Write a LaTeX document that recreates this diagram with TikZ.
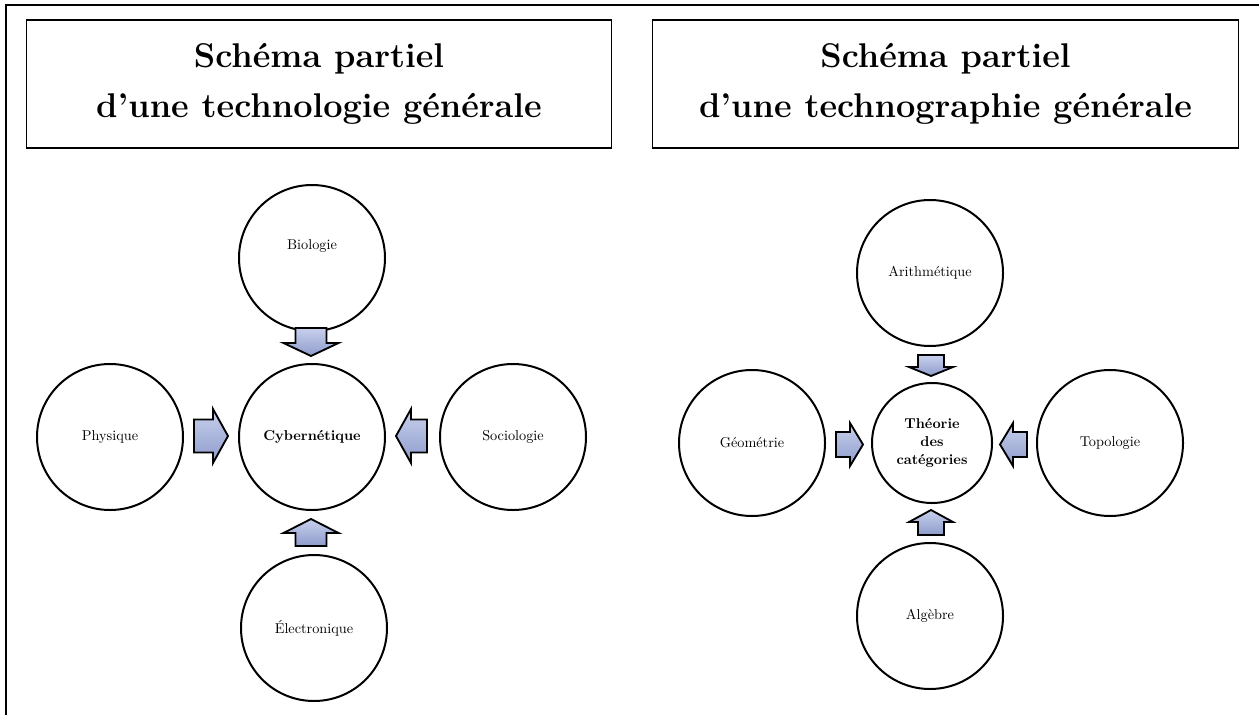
\documentclass[tikz,border=0pt]{standalone}
\usepackage{fontspec}
\usetikzlibrary{positioning}
\definecolor{arrtop}{RGB}{200,208,236}
\definecolor{arrbot}{RGB}{142,156,204}
\tikzset{
  disc/.style={circle,draw,line width=1.4pt,minimum size=102.2pt,inner sep=0pt,font=\fontsize{10}{12}\selectfont},
  smalldisc/.style={disc,minimum size=84pt,font=\bfseries\fontsize{10}{12.5}\selectfont,align=center},
  titlebox/.style={draw,line width=0.8pt,minimum width=410pt,minimum height=89.6pt,align=center,font=\bfseries\fontsize{24}{35}\selectfont},
  fatarrow/.style={draw,line width=1.3pt,line join=miter,top color=arrtop,bottom color=arrbot},
  lbl/.style={inner sep=0pt,font=\fontsize{10}{12}\selectfont}
}
% vertical arrow: cx, tail y, head-base y, tip y, shaft half width, head half width
\newcommand{\vfat}[6]{\shade[fatarrow] ({#1-#5},#2) -- ({#1+#5},#2) -- ({#1+#5},#3) -- ({#1+#6},#3) -- (#1,#4) -- ({#1-#6},#3) -- ({#1-#5},#3) -- cycle;}
% horizontal arrow: cy, tail x, head-base x, tip x, shaft half width, head half width
\newcommand{\hfat}[6]{\shade[fatarrow] (#2,{#1-#5}) -- (#2,{#1+#5}) -- (#3,{#1+#5}) -- (#3,{#1+#6}) -- (#4,#1) -- (#3,{#1-#6}) -- (#3,{#1-#5}) -- cycle;}
\begin{document}
\begin{tikzpicture}[x=0.7pt,y=-0.7pt]
\useasboundingbox (0,0) rectangle (1259,714);
\fill[white] (0,0) rectangle (1259,714);
% outer frame (cropped)
\draw[line width=1.3pt] (6,725) -- (6,5) -- (1270,5);
% titles
\node[titlebox] (t1) at (319,84) {Schéma partiel\\d’une technologie générale};
\node[titlebox] (t2) at (945.5,84) {Schéma partiel\\d’une technographie générale};
% left diagram
\node[disc] (bio) at (312,258) {};
\node[lbl] (biol) at (312,246) {Biologie};
\node[disc,font=\bfseries\fontsize{10}{12}\selectfont] (cyb) at (312,437) {Cybernétique};
\node[disc] (phy) at (110,437) {Physique};
\node[disc] (soc) at (513,437) {Sociologie};
\node[disc] (ele) at (314,628) {Électronique};
\vfat{311}{328}{343}{356}{15.5}{27.5}
\vfat{311}{546}{533}{519}{15.5}{27.5}
\hfat{436}{194}{213}{228}{16.5}{27}
\hfat{436}{427}{411}{396}{16.5}{27}
% right diagram
\node[disc] (ari) at (930,273) {Arithmétique};
\node[smalldisc] (cat) at (932,443) {Théorie\\des\\catégories};
\node[disc] (geo) at (752,443) {Géométrie};
\node[disc] (top) at (1110,443) {Topologie};
\node[disc] (alg) at (930,616) {Algèbre};
\vfat{931}{355}{367}{376}{13}{22}
\vfat{931}{535}{522}{510}{13}{22}
\hfat{444.5}{836}{850}{863}{12.5}{21.5}
\hfat{444.5}{1027}{1013}{1000}{12.5}{21.5}
\end{tikzpicture}
\end{document}
